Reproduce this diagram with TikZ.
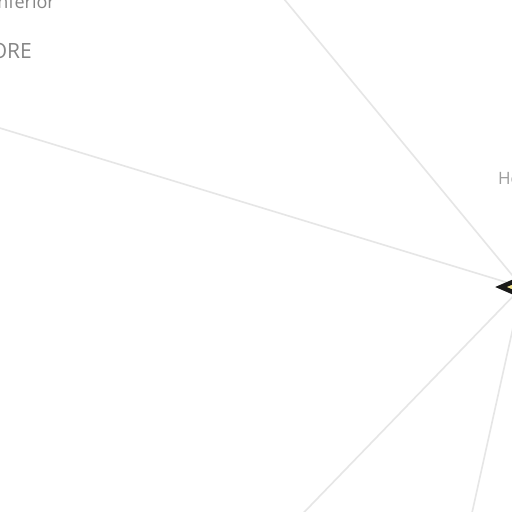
\documentclass[tikz,border=0pt]{standalone}
\usepackage{fontspec}
\setmainfont{Open Sans}
\usetikzlibrary{shapes.geometric}
\definecolor{edgegrey}{HTML}{E6E6E6}
\definecolor{labgrey}{HTML}{858585}
\definecolor{hubfill}{HTML}{F2E38C}
\begin{document}
\begin{tikzpicture}[x=1pt,y=1pt,
  link/.style={draw=edgegrey,line width=1.6pt},
  lab/.style={text=labgrey,inner sep=0pt},
  hub/.style={diamond,draw=black!90,line width=4.5pt,fill=hubfill,minimum width=44pt,minimum height=20pt,inner sep=0pt}]
\useasboundingbox (0,0) rectangle (512,-512);
\clip (0,0) rectangle (512,-512);
\fill[white] (0,0) rectangle (512,-512);
\coordinate (hc) at (522,-287);
\coordinate (ea) at (-20,-122);
\coordinate (eb) at (270,18);
\coordinate (ec) at (285,-532);
\coordinate (ed) at (466,-540);
\draw[link] (ea) -- (hc);
\draw[link] (eb) -- (hc);
\draw[link] (ec) -- (hc);
\draw[link] (ed) -- (hc);
\node[hub] (h) at (hc) {};
\node[lab,font=\fontsize{18}{21}\selectfont,anchor=base east] (t1) at (55,-8) {Inferior};
\node[lab,font=\fontsize{21}{25}\selectfont,anchor=base east] (t2) at (32,-58) {ORE};
\node[lab,text=labgrey!80,font=\fontsize{17}{20}\selectfont,anchor=base west] (t3) at (498,-184) {He};
\end{tikzpicture}
\end{document}
